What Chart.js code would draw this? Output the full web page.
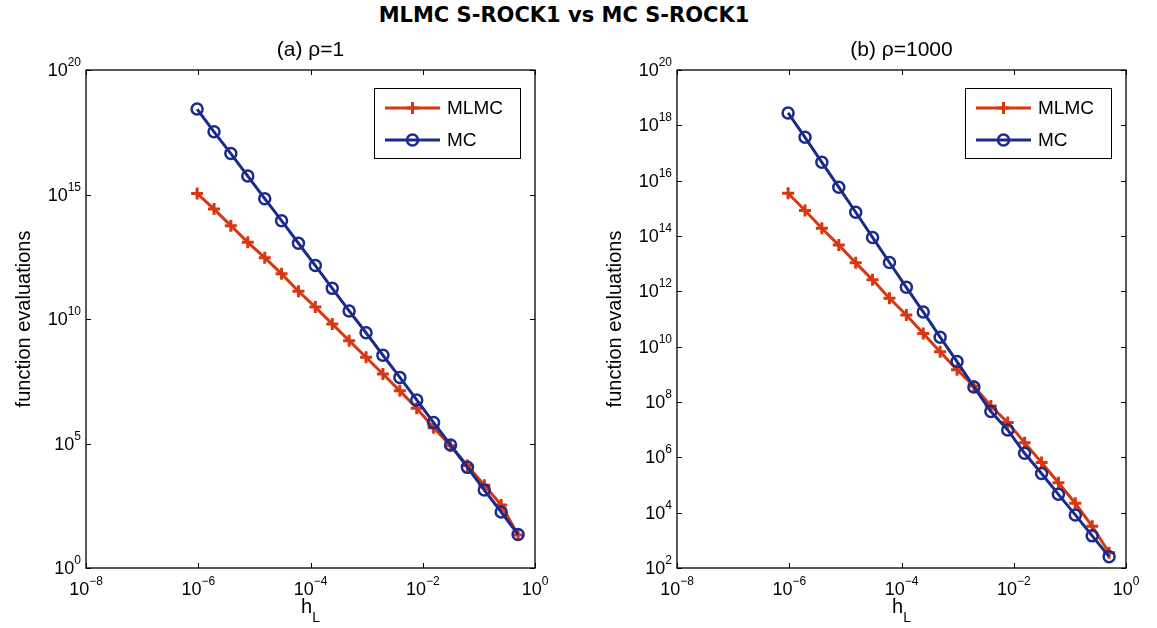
<!DOCTYPE html>
<html>
<head>
<meta charset="utf-8">
<script src="https://cdn.jsdelivr.net/npm/chart.js@4.4.0/dist/chart.umd.min.js"></script>
<style>
  html, body { margin: 0; padding: 0; background: #fff; }
  #page { position: relative; width: 1157px; height: 628px; background: #fff; overflow: hidden; }
  #mainTitle {
    position: absolute; left: 0; top: 3px; width: 1128px; text-align: center;
    font: bold 21px "DejaVu Sans"; color: #000; white-space: nowrap;
  }
  canvas { position: absolute; top: 0; }
</style>
</head>
<body>
<div id="page">
  <div id="mainTitle">MLMC S-ROCK1 vs MC S-ROCK1</div>
  <canvas id="chartA" width="578" height="628" style="left:0"></canvas>
  <canvas id="chartB" width="579" height="628" style="left:578px"></canvas>
</div>
<script>
// step sizes h_L = 2^-20 ... 2^-1
const hL = [9.54e-7, 1.91e-6, 3.81e-6, 7.63e-6, 1.53e-5, 3.05e-5, 6.10e-5, 1.22e-4, 2.44e-4, 4.88e-4,
            9.77e-4, 1.95e-3, 3.91e-3, 7.81e-3, 1.56e-2, 3.13e-2, 6.25e-2, 0.125, 0.25, 0.5];

// (a) rho = 1
const mlmcRho1 = [1.1e15, 2.6e14, 5.6e13, 1.2e13, 2.9e12, 6.5e11, 1.3e11, 3.0e10, 6.3e9, 1.35e9,
                  2.9e8, 6.2e7, 1.3e7, 2.6e6, 4.3e5, 8.1e4, 1.3e4, 2.1e3, 340, 21];
const mcRho1 = [2.7e18, 3.3e17, 4.4e16, 5.5e15, 6.8e14, 8.9e13, 1.1e13, 1.4e12, 1.7e11, 2.1e10,
                2.8e9, 3.5e8, 4.5e7, 5.6e6, 6.9e5, 8.7e4, 1.1e4, 1.35e3, 178, 22];

// (b) rho = 1000
const mlmcRho1000 = [3.5e15, 8.3e14, 1.9e14, 4.7e13, 1.07e13, 2.6e12, 5.6e11, 1.4e11, 3.0e10, 6.6e9,
                     1.45e9, 3.8e8, 7.2e7, 1.8e7, 3.4e6, 6.5e5, 1.2e5, 2.2e4, 3.2e3, 355];
const mcRho1000 = [2.8e18, 3.7e17, 4.6e16, 5.8e15, 7.2e14, 8.9e13, 1.1e13, 1.4e12, 1.8e11, 2.2e10,
                   2.9e9, 3.5e8, 4.5e7, 9.8e6, 1.4e6, 2.6e5, 4.6e4, 8.3e3, 1.45e3, 257];

// tick exponents (labels are 10^k)
const xTickExps = [-8, -6, -4, -2, 0];
const yTickExpsA = [0, 5, 10, 15, 20];
const yTickExpsB = [2, 4, 6, 8, 10, 12, 14, 16, 18, 20];

const seriesNames = ["MLMC", "MC"];
const RED = "#d8370f";
const BLUE = "#1b2b8c";
const TICK_FONT = "Liberation Sans";

function toPoints(xs, ys) {
  return xs.map((x, i) => ({ x: x, y: ys[i] }));
}

function expText(k) {
  return k < 0 ? "\u2212" + Math.abs(k) : String(k);
}

// "10" with a raised exponent; align: "right" or "center"
function drawPow(ctx, k, x, yBase, yExp, align) {
  ctx.font = "18px " + TICK_FONT;
  const wb = ctx.measureText("10").width;
  ctx.font = "12px " + TICK_FONT;
  const e = expText(k);
  const we = ctx.measureText(e).width;
  const w = wb + we;
  const xs = align === "right" ? x - w : x - w / 2;
  ctx.textAlign = "left";
  ctx.textBaseline = "alphabetic";
  ctx.font = "18px " + TICK_FONT;
  ctx.fillText("10", xs, yBase);
  ctx.font = "12px " + TICK_FONT;
  ctx.fillText(e, xs + wb, yExp);
}

const decorPlugin = {
  id: "decor",
  afterDraw(chart, args, opts) {
    const ctx = chart.ctx;
    const a = chart.chartArea;
    const xs = chart.scales.x, ys = chart.scales.y;
    ctx.save();
    ctx.fillStyle = "#000";
    ctx.strokeStyle = "#000";

    // axes box
    ctx.lineWidth = 1.3;
    ctx.strokeRect(a.left, a.top, a.right - a.left, a.bottom - a.top);

    // inward ticks
    ctx.lineWidth = 1;
    ctx.beginPath();
    xTickExps.forEach(k => {
      const px = Math.round(xs.getPixelForValue(Math.pow(10, k))) + 0.5;
      ctx.moveTo(px, a.bottom); ctx.lineTo(px, a.bottom - 5);
      ctx.moveTo(px, a.top); ctx.lineTo(px, a.top + 5);
    });
    opts.yTicks.forEach(k => {
      const py = Math.round(ys.getPixelForValue(Math.pow(10, k))) + 0.5;
      ctx.moveTo(a.left, py); ctx.lineTo(a.left + 5, py);
      ctx.moveTo(a.right, py); ctx.lineTo(a.right - 5, py);
    });
    ctx.stroke();

    // tick labels
    xTickExps.forEach(k => {
      const px = xs.getPixelForValue(Math.pow(10, k));
      drawPow(ctx, k, px, a.bottom + 27, a.bottom + 17, "center");
    });
    opts.yTicks.forEach(k => {
      const py = ys.getPixelForValue(Math.pow(10, k));
      drawPow(ctx, k, a.left - 5, py + 6, py - 4, "right");
    });

    const cx = (a.left + a.right) / 2;

    // subplot title
    ctx.font = "21px " + TICK_FONT;
    ctx.textAlign = "center";
    ctx.fillText(opts.title, cx, a.top - 14);

    // x label h_L
    ctx.font = "20px " + TICK_FONT;
    const wh = ctx.measureText("h").width;
    ctx.font = "14px " + TICK_FONT;
    const wl = ctx.measureText("L").width;
    const x0 = cx - (wh + wl) / 2;
    ctx.textAlign = "left";
    ctx.font = "20px " + TICK_FONT;
    ctx.fillText("h", x0, a.bottom + 45);
    ctx.font = "14px " + TICK_FONT;
    ctx.fillText("L", x0 + wh, a.bottom + 54);

    // y label
    ctx.save();
    ctx.translate(a.left - 56, (a.top + a.bottom) / 2);
    ctx.rotate(-Math.PI / 2);
    ctx.font = "20px " + TICK_FONT;
    ctx.textAlign = "center";
    ctx.fillText("function evaluations", 0, 0);
    ctx.restore();

    // legend
    const bw = 146, bh = 70;
    const bx = a.right - 15 - bw, by = a.top + 18;
    ctx.fillStyle = "#fff";
    ctx.fillRect(bx, by, bw, bh);
    ctx.lineWidth = 1;
    ctx.strokeStyle = "#000";
    ctx.strokeRect(bx + 0.5, by + 0.5, bw, bh);
    const rows = [
      { name: seriesNames[0], color: RED, style: "cross" },
      { name: seriesNames[1], color: BLUE, style: "circle" }
    ];
    rows.forEach((r, i) => {
      const ly = by + 20 + i * 32;
      const lx0 = bx + 11, lx1 = bx + 66, mx = (lx0 + lx1) / 2;
      ctx.strokeStyle = r.color;
      ctx.lineWidth = 3;
      ctx.beginPath();
      ctx.moveTo(lx0, ly); ctx.lineTo(lx1, ly);
      ctx.stroke();
      ctx.beginPath();
      if (r.style === "cross") {
        ctx.moveTo(mx - 6, ly); ctx.lineTo(mx + 6, ly);
        ctx.moveTo(mx, ly - 6); ctx.lineTo(mx, ly + 6);
      } else {
        ctx.lineWidth = 2.5;
        ctx.arc(mx, ly, 5.5, 0, Math.PI * 2);
      }
      ctx.stroke();
      ctx.fillStyle = "#000";
      ctx.font = "19px " + TICK_FONT;
      ctx.textAlign = "left";
      ctx.textBaseline = "middle";
      ctx.fillText(r.name, bx + 73, ly + 1);
      ctx.textBaseline = "alphabetic";
    });

    ctx.restore();
  }
};

function makeChart(id, mlmc, mc, yMin, yTicks, title, padding) {
  return new Chart(document.getElementById(id), {
    type: "line",
    data: {
      datasets: [
        {
          label: seriesNames[0],
          data: toPoints(hL, mlmc),
          borderColor: RED,
          borderWidth: 3,
          pointStyle: "cross",
          pointRadius: 6,
          pointBorderWidth: 3,
          pointBorderColor: RED,
          pointBackgroundColor: RED,
          tension: 0,
          order: 1
        },
        {
          label: seriesNames[1],
          data: toPoints(hL, mc),
          borderColor: BLUE,
          borderWidth: 3,
          pointStyle: "circle",
          pointRadius: 5.5,
          pointBorderWidth: 2.5,
          pointBorderColor: BLUE,
          pointBackgroundColor: "rgba(0,0,0,0)",
          tension: 0,
          order: 0
        }
      ]
    },
    options: {
      responsive: false,
      animation: false,
      devicePixelRatio: 1,
      layout: { padding: padding },
      scales: {
        x: { type: "logarithmic", min: 1e-8, max: 1, display: false },
        y: { type: "logarithmic", min: yMin, max: 1e20, display: false }
      },
      plugins: {
        legend: { display: false },
        tooltip: { enabled: false },
        decor: { title: title, yTicks: yTicks }
      }
    },
    plugins: [decorPlugin]
  });
}

window.addEventListener("DOMContentLoaded", () => {
  makeChart("chartA", mlmcRho1, mcRho1, 1, yTickExpsA, "(a) \u03c1=1",
            { left: 86, top: 70, right: 43, bottom: 60 });
  makeChart("chartB", mlmcRho1000, mcRho1000, 100, yTickExpsB, "(b) \u03c1=1000",
            { left: 99, top: 70, right: 31, bottom: 60 });
});
</script>
</body>
</html>
